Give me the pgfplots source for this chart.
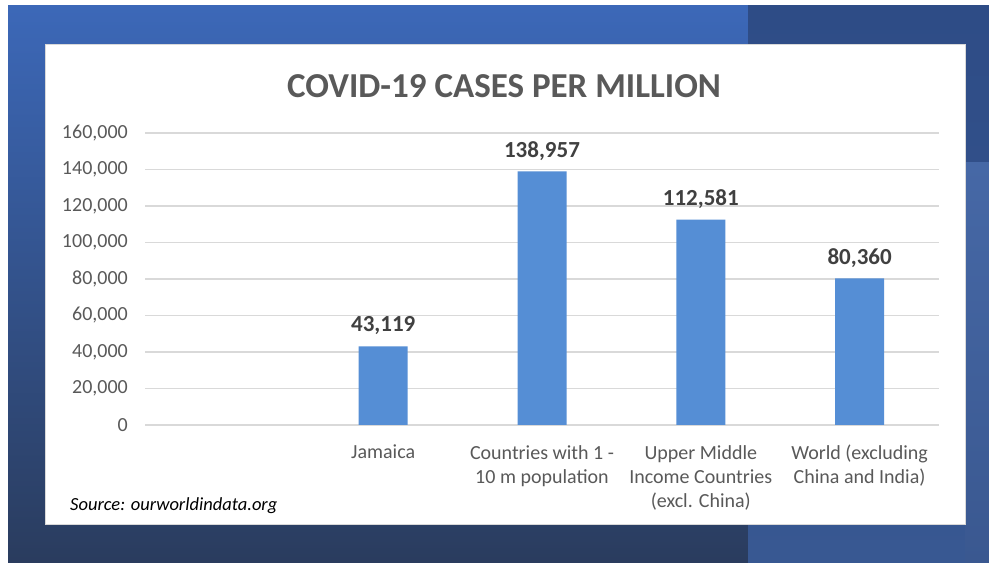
\documentclass[border=0pt]{standalone}
\usepackage{pgfplots}
\pgfplotsset{compat=1.18}
\usepackage{fontspec}
\setmainfont{Carlito}
\definecolor{barblue}{HTML}{558ED5}
\definecolor{txt}{HTML}{595959}
\definecolor{lbl}{HTML}{404040}
\definecolor{gridc}{HTML}{D9D9D9}
\begin{document}
\begin{tikzpicture}[x=1bp,y=1bp]
\path[use as bounding box] (0,0) rectangle (989,563);
\fill[white] (0,0) rectangle (989,563);
% background
\shade[top color={rgb,255:red,60;green,104;blue,184}, bottom color={rgb,255:red,42;green,60;blue,94}] (8,0) rectangle (748,557);
\shade[top color={rgb,255:red,46;green,76;blue,134}, bottom color={rgb,255:red,56;green,88;blue,146}] (748,0) rectangle (989,557);
\shade[top color={rgb,255:red,70;green,104;blue,166}, bottom color={rgb,255:red,58;green,88;blue,144}] (965,0) rectangle (989,400);
% white panel
\fill[white] (45,38) rectangle (965,518);
\draw[gridc, line width=1bp] (45,38) rectangle (965,518);
\begin{axis}[
  at={(145bp,138bp)}, anchor=south west,
  scale only axis, width=794bp, height=292bp,
  xmin=-0.5, xmax=4.5, ymin=0, ymax=160000,
  ytick={0,20000,40000,60000,80000,100000,120000,140000,160000},
  scaled y ticks=false,
  /pgf/number format/.cd, fixed, 1000 sep={,}, assume math mode=true, /pgfplots/.cd,
  ymajorgrids,
  grid style={gridc, line width=1.3bp},
  axis line style={draw=none},
  major tick length=0pt,
  xtick={1,2,3,4},
  xticklabels={Jamaica, {Countries with 1 -\\10 m population}, {Upper Middle\\Income Countries\\(excl. China)}, {World (excluding\\China and India)}},
  xticklabel style={font=\fontsize{20bp}{24bp}\selectfont, text=txt, align=center, anchor=north, inner sep=0pt, yshift=-20bp},
  yticklabel style={font=\fontsize{20bp}{24bp}\selectfont, text=txt, anchor=east, inner sep=0pt, xshift=-17bp},
  ybar, bar width=49bp,
  nodes near coords,
  nodes near coords style={font=\fontsize{23bp}{26bp}\selectfont\bfseries, text=lbl, anchor=south, inner sep=0pt, yshift=11bp},
]
\addplot[fill=barblue, draw=none] coordinates {(1,43119) (2,138957) (3,112581) (4,80360)};
\end{axis}
\node[font=\fontsize{35bp}{40bp}\selectfont\bfseries, text=txt] at (504,477) {COVID-19 CASES PER MILLION};
\node[anchor=west, inner sep=0pt, font=\fontsize{18.5bp}{22bp}\selectfont\itshape, text=black] at (70,57) {Source: ourworldindata.org};
\end{tikzpicture}
\end{document}
